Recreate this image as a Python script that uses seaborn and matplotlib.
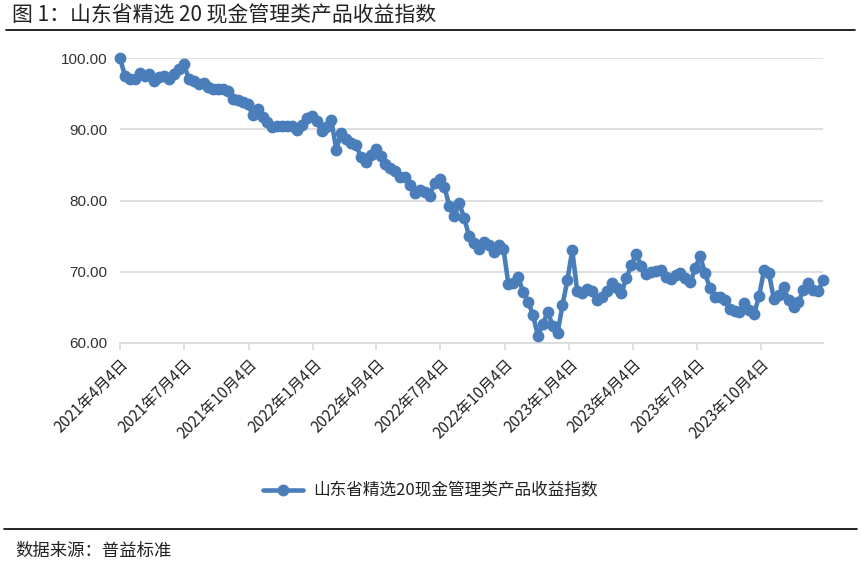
import matplotlib
matplotlib.use("Agg")
import matplotlib.pyplot as plt
import seaborn as sns
import pandas as pd

values = [
    100.0, 97.5, 97.1, 97.0, 97.9, 97.5, 97.7, 96.8, 97.4, 97.5,
    97.1, 97.7, 98.4, 99.2, 97.0, 96.8, 96.3, 96.5, 96.0, 95.7,
    95.6, 95.7, 95.3, 94.3, 94.1, 93.8, 93.5, 92.0, 92.8, 91.7,
    91.0, 90.3, 90.5, 90.4, 90.5, 90.4, 89.9, 90.6, 91.6, 91.8,
    91.1, 89.8, 90.3, 91.3, 87.1, 89.5, 88.6, 88.1, 87.8, 86.1,
    85.4, 86.4, 87.2, 86.2, 85.1, 84.6, 84.1, 83.3, 83.3, 82.2,
    81.1, 81.5, 81.2, 80.7, 82.5, 83.0, 81.9, 79.2, 77.8, 79.6,
    77.6, 75.0, 74.0, 73.2, 74.2, 73.7, 72.8, 73.8, 73.2, 68.3,
    68.4, 69.3, 67.1, 65.8, 64.0, 61.0, 62.6, 64.4, 62.4, 61.4,
    65.3, 68.8, 73.0, 67.3, 67.0, 67.6, 67.3, 66.1, 66.5, 67.3,
    68.4, 67.7, 67.0, 69.1, 70.9, 72.5, 70.8, 69.7, 70.0, 70.1,
    70.3, 69.3, 69.0, 69.6, 69.8, 69.1, 68.5, 70.5, 72.2, 69.8,
    67.7, 66.5, 66.4, 66.1, 64.8, 64.5, 64.4, 65.6, 64.6, 64.1,
    66.6, 70.2, 69.8, 66.2, 66.8, 67.8, 66.1, 65.0, 65.7, 67.5,
    68.4, 67.5, 67.3, 68.8,
]
dates = pd.date_range("2021-04-04", periods=len(values), freq="7D")
series_name = "山东省精选20现金管理类产品收益指数"

tick_dates = ["2021-04-04", "2021-07-04", "2021-10-04", "2022-01-04",
              "2022-04-04", "2022-07-04", "2022-10-04", "2023-01-04",
              "2023-04-04", "2023-07-04", "2023-10-04"]
tick_labels = ["2021年4月4日", "2021年7月4日", "2021年10月4日", "2022年1月4日",
               "2022年4月4日", "2022年7月4日", "2022年10月4日", "2023年1月4日",
               "2023年4月4日", "2023年7月4日", "2023年10月4日"]
y_ticks = [60, 70, 80, 90, 100]

title = "图 1：山东省精选 20 现金管理类产品收益指数"
source = "数据来源：普益标准"

sns.set_theme(style="white")
plt.rcParams["font.family"] = ["Noto Sans CJK SC", "DejaVu Sans"]

df = pd.DataFrame({"date": dates, "value": values, "series": series_name})

fig = plt.figure(figsize=(8.61, 5.67), dpi=100)
ax = fig.add_axes([120 / 861, 1 - 343 / 567, (823 - 120) / 861, (343 - 58) / 567])

color = "#4A7EBB"
sns.lineplot(data=df, x="date", y="value", hue="series", palette=[color],
             marker="o", markersize=8.5, markeredgewidth=0, linewidth=3.3,
             ax=ax, legend=True)
for ln in ax.lines:
    ln.set_clip_on(False)
    ln.set_zorder(5)

ax.set_ylim(60, 100)
ax.set_xlim(dates[0], dates[-1])
ax.set_yticks(y_ticks)
ax.set_yticklabels([f"{v:.2f}" for v in y_ticks], fontsize=11, color="#333333",
                   family=["Liberation Sans", "DejaVu Sans"])
ax.set_xticks(pd.to_datetime(tick_dates))
ax.set_xticklabels(tick_labels, rotation=45, ha="right", rotation_mode="anchor",
                   fontsize=11, color="#222222")
ax.set_xlabel("")
ax.set_ylabel("")

ax.yaxis.grid(True, color="#d9d9d9", linewidth=1.2)
ax.xaxis.grid(False)
for s in ["left", "right", "top"]:
    ax.spines[s].set_visible(False)
ax.spines["bottom"].set_color("#d9d9d9")
ax.spines["bottom"].set_linewidth(1.2)
ax.tick_params(axis="x", which="major", direction="out", length=5, width=1.2,
               color="#d9d9d9", bottom=True, pad=4)
ax.tick_params(axis="y", length=0, pad=9)
ax.set_axisbelow(True)

leg = ax.legend(loc="center", frameon=False, fontsize=12, handlelength=2.4,
                handletextpad=0.6)
leg.set_bbox_to_anchor((430 / 861, 1 - 491 / 567), transform=fig.transFigure)
for t in leg.get_texts():
    t.set_color("#222222")

fig.text(12 / 861, 1 - 15 / 567, title, fontsize=15, ha="left", va="center",
         color="#222222")
fig.add_artist(plt.Line2D([6 / 861, 855 / 861], [1 - 30 / 567, 1 - 30 / 567],
                          color="black", linewidth=1.2, transform=fig.transFigure))
fig.add_artist(plt.Line2D([4 / 861, 857 / 861], [1 - 529 / 567, 1 - 529 / 567],
                          color="black", linewidth=1.2, transform=fig.transFigure))
fig.text(15 / 861, 1 - 551 / 567, source, fontsize=12.5, ha="left", va="center",
         color="#222222")

fig.savefig("out.png", dpi=100)
